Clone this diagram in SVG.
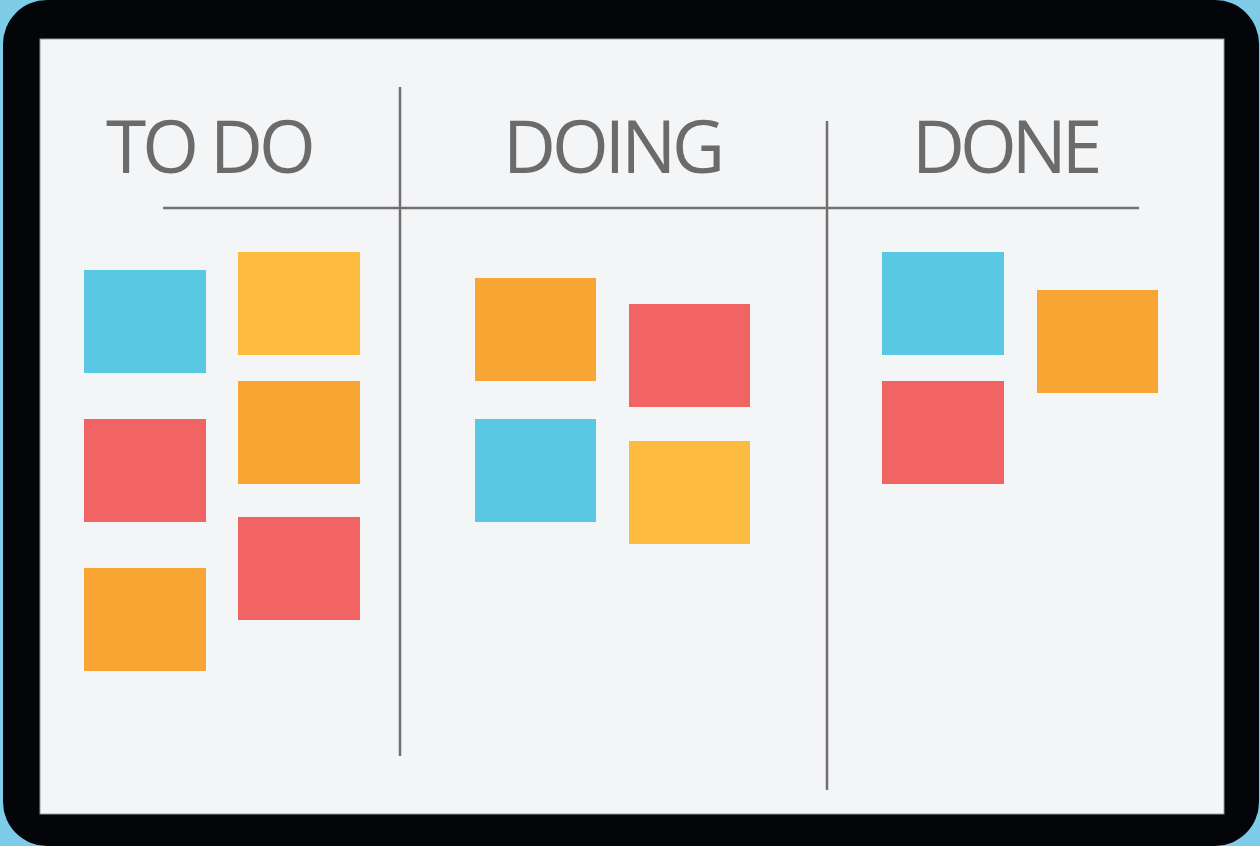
<svg xmlns="http://www.w3.org/2000/svg" width="1260" height="846" viewBox="0 0 1260 846">
<style>
.title{font-family:"Open Sans","Liberation Sans",sans-serif;font-size:73px;letter-spacing:-4px;fill:#6b6b6b;}
.tight{letter-spacing:-5px;}
.line{stroke:#707070;stroke-width:2.5;fill:none;}
.blue{fill:#5bc8e3;}
.yellow{fill:#fdbb40;}
.orange{fill:#f9a533;}
.red{fill:#f26463;}
</style>
<rect x="0" y="0" width="1260" height="846" fill="#7fcce8"/>
<rect id="frame" x="3" y="0" width="1256" height="846" rx="44" fill="#030508"/>
<rect id="board" x="40" y="39" width="1184" height="775" fill="#f4f5f7" stroke="#9a9a9a" stroke-width="1"/>
<g id="connectors">
<line class="line" x1="400" y1="87" x2="400" y2="756"/>
<line class="line" x1="827" y1="121" x2="827" y2="790"/>
<line class="line" x1="163" y1="208" x2="1139" y2="208"/>
</g>
<g id="todo">
<text class="title" x="106" y="173">TO DO</text>
<rect class="blue" x="84" y="270" width="122" height="103"/>
<rect class="yellow" x="238" y="252" width="122" height="103"/>
<rect class="red" x="84" y="419" width="122" height="103"/>
<rect class="orange" x="238" y="381" width="122" height="103"/>
<rect class="orange" x="84" y="568" width="122" height="103"/>
<rect class="red" x="238" y="517" width="122" height="103"/>
</g>
<g id="doing">
<text class="title" x="503" y="173">DOING</text>
<rect class="orange" x="475" y="278" width="121" height="103"/>
<rect class="red" x="629" y="304" width="121" height="103"/>
<rect class="blue" x="475" y="419" width="121" height="103"/>
<rect class="yellow" x="629" y="441" width="121" height="103"/>
</g>
<g id="done">
<text class="title tight" x="912" y="173">DONE</text>
<rect class="blue" x="882" y="252" width="122" height="103"/>
<rect class="orange" x="1037" y="290" width="121" height="103"/>
<rect class="red" x="882" y="381" width="122" height="103"/>
</g>
</svg>
